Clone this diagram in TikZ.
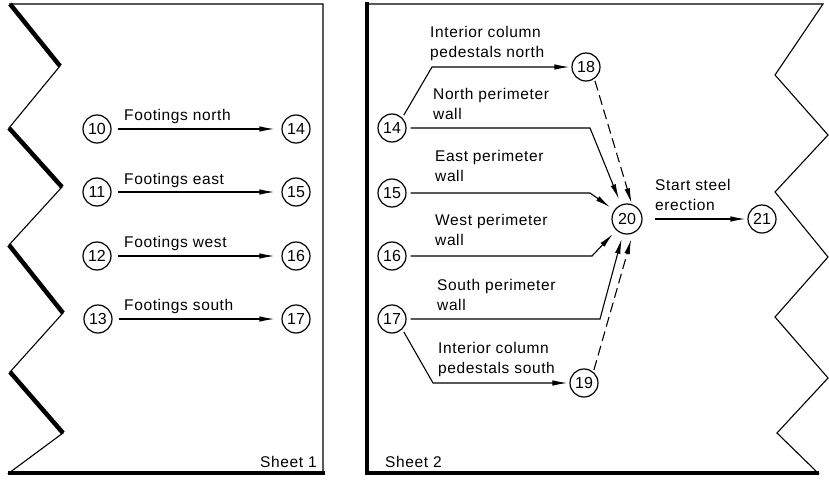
\documentclass[tikz,border=0pt]{standalone}
\usepackage{fontspec}
\setmainfont{Liberation Sans}[LetterSpace=4]
\newfontfamily\numfont{Liberation Sans}
\usetikzlibrary{arrows.meta}
\begin{document}
\begin{tikzpicture}[x=1pt,y=-1pt,
  lbl/.style={font=\fontsize{15.5}{20}\selectfont, align=left, anchor=base west, inner sep=0pt},
  ev/.style={circle, draw, line width=1.2pt, minimum size=28pt, inner sep=0pt, font=\numfont\fontsize{16}{18}\selectfont},
  arr/.style={line width=1.1pt, -{Latex[length=15pt,width=5.5pt]}},
  dsh/.style={arr, dash pattern=on 10pt off 5pt},
  thinedge/.style={line width=1.1pt, line join=miter},
  thickedge/.style={line width=4.5pt}]
\useasboundingbox (0,0) rectangle (829,481);

% Sheet 1 border
\draw[thinedge] (10,4) -- (323,4) -- (323,473) -- (9,473) -- (63,433) -- (10,372) -- (63,313) -- (9,245) -- (62,187) -- (9,128) -- (60,66) -- cycle;
\draw[thickedge] (10,4) -- (60,66);
\draw[thickedge] (9,128) -- (62,187);
\draw[thickedge] (9,245) -- (63,313);
\draw[thickedge] (10,372) -- (63,433);
\draw[thickedge] (8,473) -- (325,473);

% Sheet 2 border
\draw[thinedge] (367,4) -- (823,4) -- (775,75) -- (828,135) -- (775,192) -- (828,257) -- (775,317) -- (828,378) -- (777,433) -- (818,473) -- (367,473) -- cycle;
\draw[thickedge] (367,2) -- (367,475);
\draw[thickedge] (365,473) -- (819,473);

% Sheet 1 events
\node[ev] (a10) at (97,129) {10};
\node[ev] (a11) at (97,192) {11};
\node[ev] (a12) at (97,256) {12};
\node[ev] (a13) at (98,319) {13};
\node[ev] (a14) at (296,129) {14};
\node[ev] (a15) at (296,192) {15};
\node[ev] (a16) at (296,256) {16};
\node[ev] (a17) at (296,319) {17};
\draw[arr, shorten <=6pt, shorten >=7pt] (a10) -- (a14);
\draw[arr, shorten <=6pt, shorten >=7pt] (a11) -- (a15);
\draw[arr, shorten <=6pt, shorten >=7pt] (a12) -- (a16);
\draw[arr, shorten <=6pt, shorten >=7pt] (a13) -- (a17);
\node[lbl] (l1) at (124,121) {Footings north};
\node[lbl] (l2) at (124,184) {Footings east};
\node[lbl] (l3) at (124,247) {Footings west};
\node[lbl] (l4) at (124,310) {Footings south};
\node[lbl] (s1) at (260,467) {Sheet 1};

% Sheet 2 events
\node[ev] (b14) at (392,128) {14};
\node[ev] (b15) at (392,193) {15};
\node[ev] (b16) at (392,256) {16};
\node[ev] (b17) at (392,319) {17};
\node[ev] (b18) at (586,67) {18};
\node[ev, minimum size=30pt] (b20) at (627,219) {20};
\node[ev] (b19) at (584,383) {19};
\node[ev] (b21) at (762,219) {21};

\coordinate (k1) at (432,67);
\coordinate (k2) at (590,128);
\coordinate (k3) at (590,193);
\coordinate (k4) at (592,256);
\coordinate (k5) at (600,319);
\coordinate (k6) at (433,383);

\draw[arr, shorten <=3pt, shorten >=2pt] (b14.45) -- (k1) -- (b18);
\draw[arr, shorten <=4pt, shorten >=6pt] (b14) -- (k2) -- (b20);
\draw[arr, shorten <=4pt, shorten >=5pt] (b15) -- (k3) -- (b20);
\draw[arr, shorten <=4pt, shorten >=5pt] (b16) -- (k4) -- (b20);
\draw[arr, shorten <=4pt, shorten >=5pt] (b17) -- (k5) -- (b20);
\draw[arr, shorten <=3pt, shorten >=2pt] (b17.-45) -- (k6) -- (b19);
\draw[dsh, shorten <=2pt, shorten >=1pt] (b18.-55) -- (b20.72);
\draw[dsh, shorten <=2pt, shorten >=6pt] (b19.50) -- (b20.-68);
\draw[arr, shorten <=12pt, shorten >=2pt] (b20) -- (b21);

\node[lbl] (m1) at (430,58) {Interior column\\pedestals north};
\node[lbl] (m2) at (433,120) {North perimeter\\wall};
\node[lbl] (m3) at (435,182) {East perimeter\\wall};
\node[lbl] (m4) at (435,245) {West perimeter\\wall};
\node[lbl] (m5) at (437,310) {South perimeter\\wall};
\node[lbl] (m6) at (438,373) {Interior column\\pedestals south};
\node[lbl] (m7) at (655,210) {Start steel\\erection};
\node[lbl] (s2) at (385,467) {Sheet 2};
\end{tikzpicture}
\end{document}
